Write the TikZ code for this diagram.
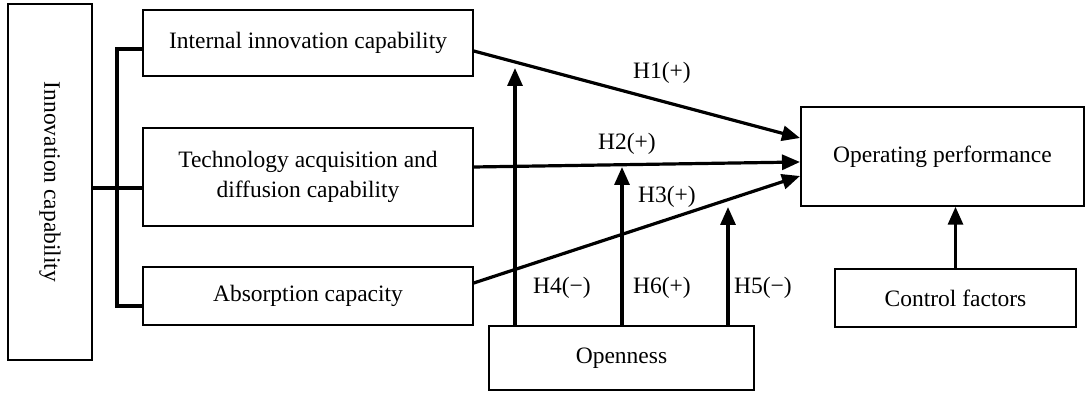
\documentclass[tikz,border=0pt]{standalone}
\usepackage{fontspec}
\setmainfont{Liberation Serif}
\usetikzlibrary{arrows.meta,calc}

\begin{document}
\begin{tikzpicture}[x=1pt,y=1pt,
  txt/.style={font=\fontsize{23.5}{30}\selectfont},
  box/.style={txt,draw,line width=1.5pt,inner sep=0pt,align=center},
  link/.style={line width=3.2pt},
  arr/.style={link,-{Triangle[length=18pt,width=15pt]}}]
\useasboundingbox (0,0) rectangle (1087,393);
% boxes
\node[box,rotate=-90,minimum width=356pt,minimum height=84pt] (innov) at (50,211) {Innovation capability};
\node[box,minimum width=330pt,minimum height=66pt] (internal) at (308,350) {Internal innovation capability};
\node[box,minimum width=330pt,minimum height=98pt] (tech) at (308,216) {Technology acquisition and\\diffusion capability};
\node[box,minimum width=330pt,minimum height=58pt] (absorb) at (308,97) {Absorption capacity};
\node[box,minimum width=265pt,minimum height=64pt] (open) at (621.5,35) {Openness};
\node[box,minimum width=283pt,minimum height=99pt] (perf) at (942.5,236.5) {Operating performance};
\node[box,minimum width=241pt,minimum height=58pt] (control) at (955.5,95) {Control factors};
% bracket
\coordinate (bk1) at (117,344);
\coordinate (bk2) at (117,205);
\coordinate (bk3) at (117,87);
\draw[link] (bk1 -| internal.west) -- (bk1) -- (bk3) -- (bk3 -| absorb.west);
\draw[link] (bk2 -| innov.north) -- (bk2 -| tech.west);
% main effects
\coordinate (t1) at (800,255);
\coordinate (t2) at (800,231);
\coordinate (t3) at (800,217);
\draw[arr] ($(internal.east)+(0,-8)$) -- (t1);
\draw[arr] ($(tech.east)+(0,10)$) -- (t2);
\draw[arr] ($(absorb.east)+(0,13)$) -- (t3);
% moderating effects
\coordinate (m4) at (515,325);
\coordinate (m6) at (622,226);
\coordinate (m5) at (728,186);
\draw[arr] (m4 |- open.north) -- (m4);
\draw[arr] (m6 |- open.north) -- (m6);
\draw[arr] (m5 |- open.north) -- (m5);
\draw[arr] (control.north) -- (control.north |- perf.south);
% labels
\node[txt] (h1) at (662,320) {H1(+)};
\node[txt] (h2) at (627,249) {H2(+)};
\node[txt] (h3) at (667,196) {H3(+)};
\node[txt] (h4) at (562,105) {H4(−)};
\node[txt] (h6) at (662,105) {H6(+)};
\node[txt] (h5) at (763,105) {H5(−)};
\end{tikzpicture}
\end{document}
